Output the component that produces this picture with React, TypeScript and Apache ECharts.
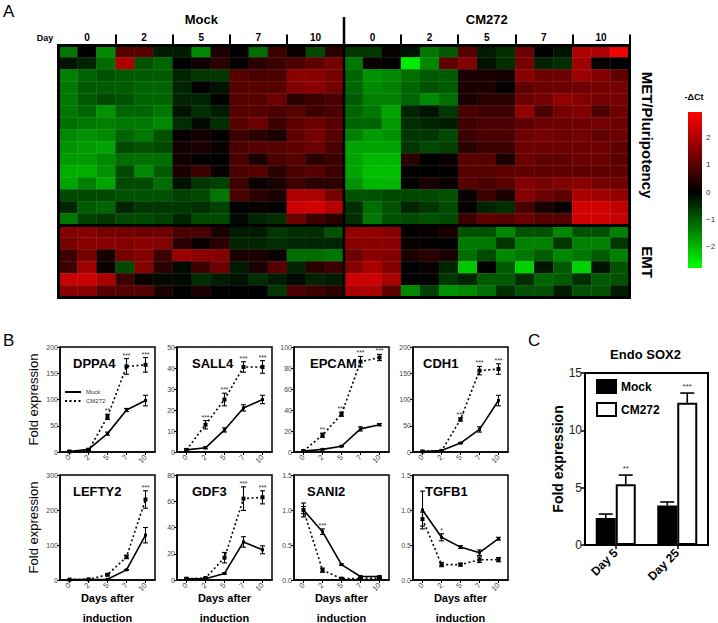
import React, { useEffect, useRef } from "react";
import * as echarts from "echarts";

const FONT = "'Liberation Sans', Arial, Helvetica, sans-serif";

// ---------------- Panel A : heatmap (-ΔCt) ----------------
const heatConditions = ["Mock", "CM272"];
const heatDays = ["0", "2", "5", "7", "10"];
const heatReplicates = ["a", "b", "c"];
const colorbarTicks = [2, 1, 0, -1, -2];

// MET / Pluripotency genes (15 rows) x 15 columns (days 0,2,5,7,10 x 3)
const mockMET = [
  [-1.3, 0, -1.5, 1.0, 1.0, -0.3, -0.3, -1.5, 0.3, 0, -1.2, 0.7, 0.1, -0.8, 0.5],
  [-0.2, -0.4, -1.2, 2.0, -0.9, -1.1, 0, 0.2, 0.5, 0.05, 0.5, 0.7, 0.85, 1.1, 1.35],
  [-1.4, -1.1, -0.9, -1.0, -1.0, -1.0, -0.4, -0.6, -0.6, 1.0, 0.85, 0.85, 1.6, 1.6, 1.35],
  [-1.3, -1.0, -1.0, -1.0, -1.1, -1.1, -0.4, 0, -0.2, 1.0, 1.0, 1.0, 1.5, 1.6, 1.35],
  [-1.3, -1.0, -0.8, -0.9, -1.1, -1.1, -0.4, -0.4, 0.05, 1.0, 1.0, 1.25, 0.5, 0.7, 0.85],
  [-1.3, -1.1, -1.6, -1.1, -1.1, -1.3, -0.2, -0.5, -0.3, 1.0, 1.0, 0.85, 1.0, 0.7, 0.85],
  [-1.2, -1.3, -1.4, -1.3, -1.3, -1.5, -0.5, -0.1, -0.5, 1.0, 1.25, 0.7, 1.1, 1.25, 1.0],
  [-1.5, -1.6, -1.5, -1.1, -1.3, -0.9, 0.05, 0.2, 0.05, 0.7, 0.5, 0.3, 1.1, 1.35, 1.0],
  [-1.6, -1.7, -1.8, -0.8, -0.9, -0.8, 0.2, 0.3, 0.1, 0.85, 1.0, 1.0, 1.1, 1.25, 0.85],
  [-1.7, -1.7, -1.5, -1.2, -1.2, -1.2, 0.2, 0, 0, 0.85, 0.3, 0.85, 1.0, 0.5, 0.7],
  [-1.9, -1.9, -1.6, -0.8, -1.5, -1.0, 0.3, 0.7, 0.1, 0.85, 1.0, 0.5, 0.85, 1.0, 0.7],
  [-1.8, -1.4, -1.8, -0.8, -0.8, -1.2, -0.2, -0.6, -0.7, 0.7, 0.1, 0.3, 0.7, 0.5, 0.5],
  [-0.8, -0.8, -0.8, -0.9, -0.9, -0.9, -0.7, -0.8, -1.3, 0.85, 0.5, 0.3, 2.0, 2.0, 1.35],
  [-0.4, -1.0, -1.1, -0.4, -0.6, -0.6, -0.6, -0.5, -0.7, 0, 0.1, 0, 2.35, 2.45, 2.1],
  [-1.3, -0.7, -0.6, -0.8, -0.8, -0.7, -0.4, -0.8, -0.8, -0.1, -0.4, -0.5, 1.25, 0.7, 0.5],
];
const cm272MET = [
  [-0.6, -0.6, 0.1, -0.2, -1.3, -1.0, 1.0, -0.3, -0.5, 1.25, 0, -0.2, 2.0, 2.0, 2.8],
  [-1.3, 0.1, 0, -2.6, -1.5, 1.1, 1.5, -0.2, -0.5, 1.35, -0.4, -0.5, 1.85, 0.1, 0],
  [-1.1, -1.6, -1.5, -1.2, -1.0, -1.0, 0.3, 0.3, 0.2, 1.6, 1.25, 1.25, 1.8, 1.5, 1.1],
  [-1.1, -1.5, -1.4, -1.1, -0.9, -1.0, 0.3, 0.3, 0, 1.1, 1.25, 1.25, 1.25, 1.35, 1.35],
  [-1.0, -1.4, -1.4, -1.1, -1.5, -1.2, 0.3, 0.5, 0.5, 1.25, 1.35, 1.7, 1.5, 1.35, 1.35],
  [-1.1, -1.3, -1.8, -0.4, -0.2, -0.6, 0.85, 0.7, 0.7, 1.7, 0.85, 1.35, 1.5, 0.85, 1.25],
  [-1.1, -1.1, -1.7, -0.5, -0.4, -0.3, 0.7, 0.85, 0.85, 1.1, 1.25, 1.25, 1.25, 1.35, 1.25],
  [-1.4, -1.7, -1.6, -0.6, -0.6, -0.8, 0.7, 0.85, 0.85, 1.25, 1.35, 1.25, 1.35, 1.1, 1.25],
  [-1.8, -1.8, -1.8, -0.6, -0.8, -0.7, 0.5, 0.7, 0.7, 1.25, 1.25, 1.25, 1.25, 1.25, 1.1],
  [-1.8, -2.0, -2.0, 0.5, 0, 0.1, 1.0, 1.0, 0.3, 1.25, 1.1, 1.1, 1.25, 1.25, 1.0],
  [-1.8, -2.1, -2.1, 0, 0, 0, 1.0, 1.0, 1.1, 1.1, 1.1, 1.1, 1.1, 1.1, 1.1],
  [-1.6, -2.0, -2.0, 0, 0.3, 0.1, 1.0, 0.85, 1.0, 1.5, 1.35, 1.5, 1.6, 1.35, 1.25],
  [-0.9, -0.9, -0.8, -0.8, -0.8, -0.9, 0.1, 0.7, 0.3, 1.5, 1.25, 1.1, 1.95, 1.85, 1.7],
  [-0.5, -1.2, -0.9, -0.4, -0.6, -0.8, 0.05, -0.4, -0.5, 0.85, 0.3, 0.1, 2.45, 2.45, 2.2],
  [-0.5, -1.3, -0.9, -0.8, -0.9, -0.8, 0.7, 1.1, 1.0, 1.25, 1.0, 1.0, 2.4, 2.4, 2.3],
];
// EMT genes (6 rows)
const mockEMT = [
  [1.5, 1.5, 1.35, 1.35, 1.25, 1.25, 0.85, 0.85, 0.3, -0.3, -0.3, -0.6, -0.5, -0.5, -0.9],
  [1.35, 1.6, 1.6, 1.5, 1.6, 1.5, 0.5, 0.1, 0.5, -0.4, -0.4, -0.5, -0.4, -0.4, -0.4],
  [0.7, 1.35, 0.3, 1.35, 1.5, 0.7, 1.8, 1.6, 1.5, 0.3, 0.3, 0.1, -1.2, -1.2, -1.3],
  [0.7, 1.8, 0.1, -0.8, 1.5, 0.5, -0.1, 0.7, 1.25, -0.3, 0.3, 1.0, -0.4, 0.5, 0.7],
  [2.3, 2.35, 1.95, 0.7, 0.1, -0.1, -0.1, -0.5, -0.3, -0.2, -0.5, -0.3, -0.1, -0.4, -0.3],
  [1.6, 1.6, 1.0, 1.0, 1.0, 0.3, 0, 0.3, 0, 0, 0, -0.6, 0.85, 0.7, 0.5],
];
const cm272EMT = [
  [1.7, 1.7, 1.5, 0, 0.1, 0.3, -0.9, -0.9, -1.5, -0.9, -0.9, -1.5, -0.9, -0.9, -1.4],
  [1.6, 1.6, 1.6, 0.1, 0, 0, -1.3, -1.3, -0.6, -1.4, -1.4, -0.6, -1.4, -1.4, -0.6],
  [1.25, 1.6, 1.5, 0.3, 0.5, 0.3, -1.2, -0.8, -1.5, -1.3, -1.0, -1.5, -1.3, -1.0, -1.4],
  [1.5, 1.95, 1.5, 0, 0.1, -0.4, -2.2, 0, -1.0, -2.3, -0.2, -1.0, -2.3, -0.2, -0.9],
  [2.35, 2.35, 1.95, 0, 0, -0.6, -0.4, -1.0, -1.0, -0.5, -1.1, -1.0, -0.5, -1.0, -0.9],
  [1.95, 1.95, 1.1, -1.5, -0.7, -1.6, -1.5, -1.2, -0.5, -0.9, -0.9, -0.3, -0.9, -0.9, -0.3],
];

// ---------------- Panel B : time courses ----------------
const days = ["0", "2", "5", "7", "10"];
const genes = ["DPPA4", "SALL4", "EPCAM", "CDH1", "LEFTY2", "GDF3", "SANI2", "TGFB1"];
const geneMax = [200, 50, 100, 200, 300, 80, 1.5, 1.5];
const geneStep = [50, 10, 20, 50, 100, 20, 0.5, 0.5];
const mockMean = [
  [1, 5, 35, 80, 98],
  [1, 2, 10.5, 21, 25],
  [1, 2.5, 5.5, 22, 26],
  [1, 3, 17, 43, 98],
  [1, 1, 2, 29, 128],
  [1, 1, 5, 29, 23],
  [1.0, 0.69, 0.22, 0.05, 0.05],
  [1.0, 0.61, 0.47, 0.39, 0.59],
];
const mockErr = [
  [1, 2, 3, 3, 10],
  [0.5, 0.5, 1, 1.5, 2],
  [0.5, 0.5, 0.5, 2, 1],
  [0.5, 1, 1, 5, 10],
  [0.5, 0.5, 0.5, 1, 22],
  [0.5, 0.5, 0.5, 4, 3],
  [0.1, 0.04, 0.01, 0.01, 0.01],
  [0.27, 0.05, 0.02, 0.04, 0.02],
];
const cmMean = [
  [1, 3, 67, 163, 166],
  [1, 13, 25, 40.5, 40.5],
  [1, 16, 36, 86, 90],
  [1, 2, 62, 155, 158],
  [1, 2, 15, 66, 230],
  [1, 1.5, 17, 62, 63],
  [1.0, 0.14, 0.02, 0.02, 0.03],
  [0.87, 0.22, 0.22, 0.29, 0.29],
];
const cmErr = [
  [1, 1, 5, 15, 14],
  [0.5, 2, 3, 2.5, 3],
  [0.5, 2, 2, 5, 3],
  [0.5, 0.5, 3, 8, 10],
  [0.5, 0.5, 3, 5, 25],
  [0.5, 0.5, 4, 9, 5],
  [0.05, 0.03, 0.01, 0.01, 0.01],
  [0.1, 0.03, 0.02, 0.04, 0.03],
];
const geneStars = [
  ["", "", "**", "***", "***"],
  ["", "***", "***", "***", "***"],
  ["", "**", "***", "***", "***"],
  ["", "", "***", "***", "***"],
  ["", "", "", "", "***"],
  ["", "", "", "***", "***"],
  ["", "***", "", "", ""],
  ["", "*", "", "", ""],
];
const xTitle = "Days after\ninduction";

// ---------------- Panel C : Endo SOX2 ----------------
const sox2Days = ["Day 5", "Day 25"];
const sox2Mock = [2.35, 3.45];
const sox2MockErr = [0.35, 0.3];
const sox2CM = [5.3, 12.4];
const sox2CMErr = [0.8, 0.85];
const sox2Stars = ["**", "***"];

// ---------------- helpers ----------------
const HM_MIN = -2.8;
const HM_MAX = 2.95;

function colorAt(v: number): string {
  if (v < 0) {
    const g = Math.round(255 * Math.min(1, -v / -HM_MIN));
    return `rgb(0,${g},0)`;
  }
  const r = Math.round(255 * Math.min(1, v / HM_MAX));
  return `rgb(${r},0,0)`;
}

function rampColors(n: number): string[] {
  const out: string[] = [];
  for (let k = 0; k < n; k++) out.push(colorAt(HM_MIN + (k * (HM_MAX - HM_MIN)) / (n - 1)));
  return out;
}

function txt(text: string, x: number, y: number, o: any = {}) {
  const align = o.align || "left";
  const valign = o.valign || "middle";
  const style: any = {
    text,
    fontSize: o.size || 10,
    fontWeight: o.weight || "normal",
    fontFamily: FONT,
    fill: o.color || "#000",
    align,
    verticalAlign: valign,
    textAlign: align,
    textVerticalAlign: valign,
  };
  if (o.lineHeight) style.lineHeight = o.lineHeight;
  return { type: "text", x, y, rotation: o.rotation || 0, z: 100, silent: true, style };
}

function errSeries(gi: number, means: number[], errs: number[], dx: number, capW: number, upOnly: boolean, lw: number) {
  return {
    type: "custom",
    xAxisIndex: gi,
    yAxisIndex: gi,
    silent: true,
    clip: true,
    z: 5,
    data: means.map((m, i) => [i, m, errs[i]]),
    encode: { x: 0, y: 1 },
    renderItem: (params: any, api: any) => {
      const i = api.value(0);
      const m = api.value(1);
      const e = api.value(2);
      const hi = api.coord([i, m + e]);
      const lo = api.coord([i, upOnly ? m : m - e]);
      const x = hi[0] + dx;
      const st = { stroke: "#000", lineWidth: lw };
      const children: any[] = [
        { type: "line", shape: { x1: x, y1: hi[1], x2: x, y2: lo[1] }, style: st },
        { type: "line", shape: { x1: x - capW, y1: hi[1], x2: x + capW, y2: hi[1] }, style: st },
      ];
      if (!upOnly) children.push({ type: "line", shape: { x1: x - capW, y1: lo[1], x2: x + capW, y2: lo[1] }, style: st });
      return { type: "group", children };
    },
  };
}

function starSeries(gi: number, tops: number[], stars: string[], dx: number, size: number, gap: number) {
  return {
    type: "custom",
    xAxisIndex: gi,
    yAxisIndex: gi,
    silent: true,
    z: 6,
    data: tops.map((t, i) => [i, t]),
    encode: { x: 0, y: 1 },
    renderItem: (params: any, api: any) => {
      const s = stars[params.dataIndex];
      if (!s) return { type: "group", children: [] };
      const p = api.coord([api.value(0), api.value(1)]);
      return {
        type: "text",
        x: p[0] + dx,
        y: p[1] - gap,
        style: {
          text: s,
          fontSize: size,
          fontFamily: FONT,
          fill: "#333",
          align: "center",
          verticalAlign: "bottom",
          textAlign: "center",
          textVerticalAlign: "bottom",
        },
      };
    },
  };
}

function buildOption() {
  const grid: any[] = [];
  const xAxis: any[] = [];
  const yAxis: any[] = [];
  const series: any[] = [];
  const graphic: any[] = [];

  // ---------- Panel A ----------
  const HM = { left: 58.5, top: 45.5, width: 571, height: 252 };
  grid.push({ left: HM.left, top: HM.top, width: HM.width, height: HM.height, show: false });
  const colIds: string[] = [];
  heatConditions.forEach((c) => heatDays.forEach((d) => heatReplicates.forEach((r) => colIds.push(`${c}|${d}|${r}`))));
  const rowIds: string[] = [];
  mockMET.forEach((_, i) => rowIds.push(`MET-${i + 1}`));
  mockEMT.forEach((_, i) => rowIds.push(`EMT-${i + 1}`));
  xAxis.push({
    gridIndex: 0,
    type: "category",
    data: colIds,
    position: "top",
    boundaryGap: true,
    axisLine: { show: false },
    axisTick: {
      show: true,
      interval: (i: number) => i % 3 === 0 && i % 15 !== 0,
      length: 11,
      lineStyle: { color: "#000", width: 2 },
    },
    axisLabel: {
      interval: (i: number) => i % 3 === 1,
      formatter: (v: string) => v.split("|")[1],
      fontSize: 10,
      fontWeight: "bold",
      color: "#000",
      margin: 3,
      fontFamily: FONT,
    },
    splitLine: { show: false },
  });
  yAxis.push({ gridIndex: 0, type: "category", data: rowIds, inverse: true, show: false });
  const heatData: any[] = [];
  const allRows = [
    ...mockMET.map((r, i) => r.concat(cm272MET[i])),
    ...mockEMT.map((r, i) => r.concat(cm272EMT[i])),
  ];
  allRows.forEach((row, r) => row.forEach((v, c) => heatData.push([c, r, v])));
  series.push({
    type: "heatmap",
    xAxisIndex: 0,
    yAxisIndex: 0,
    data: heatData,
    silent: true,
    itemStyle: { borderColor: "rgba(255,255,255,0.07)", borderWidth: 0.6 },
    emphasis: { disabled: true },
  });

  const hmRight = HM.left + HM.width;
  const hmBottom = HM.top + HM.height;
  const midX = HM.left + HM.width / 2;
  const emtY = HM.top + (HM.height * mockMET.length) / rowIds.length;
  graphic.push(
    { type: "rect", z: 100, silent: true, shape: { x: HM.left, y: HM.top, width: HM.width, height: HM.height }, style: { fill: "none", stroke: "#000", lineWidth: 3 } },
    { type: "line", z: 100, silent: true, shape: { x1: midX, y1: 17, x2: midX, y2: hmBottom }, style: { stroke: "#000", lineWidth: 2.5 } },
    { type: "line", z: 100, silent: true, shape: { x1: HM.left, y1: emtY, x2: hmRight, y2: emtY }, style: { stroke: "#000", lineWidth: 3 } },
    txt("A", 3, 11, { size: 17 }),
    txt("Mock", HM.left + HM.width / 4, 19, { size: 13, weight: "bold", align: "center" }),
    txt("CM272", HM.left + (3 * HM.width) / 4, 19, { size: 13, weight: "bold", align: "center" }),
    txt("Day", 45, 38, { size: 9, weight: "bold", align: "center" }),
    txt("MET/Pluripotency", 647, 135, { size: 15, weight: "bold", align: "center", rotation: -Math.PI / 2 }),
    txt("EMT", 647, 262, { size: 15, weight: "bold", align: "center", rotation: -Math.PI / 2 }),
    txt("-ΔCt", 694, 97, { size: 9, weight: "bold", align: "center" })
  );
  // colour bar of the -ΔCt scale
  const CB = { left: 688, top: 112, width: 14, height: 156 };
  const nStops = 40;
  const stops = rampColors(nStops)
    .reverse()
    .map((c, k) => ({ offset: k / (nStops - 1), color: c }));
  graphic.push({
    type: "rect",
    z: 90,
    silent: true,
    shape: { x: CB.left, y: CB.top, width: CB.width, height: CB.height },
    style: { fill: new echarts.graphic.LinearGradient(0, 0, 0, 1, stops), stroke: "none" },
  });
  colorbarTicks.forEach((v) => {
    const y = CB.top + ((HM_MAX - v) / (HM_MAX - HM_MIN)) * CB.height;
    graphic.push(txt(v < 0 ? `\u2212${-v}` : `${v}`, 706, y, { size: 8, color: "#333" }));
  });

  // ---------- Panel B ----------
  const BL = [60, 177, 294, 413];
  const BT = [347, 475];
  const BW = 95;
  const BH = 105;
  const titleDx = [13, 15, 16, 10, 13, 15, 13, 12];
  graphic.push(txt("B", 3, 340, { size: 17 }));
  genes.forEach((g, k) => {
    const gi = grid.length;
    const row = Math.floor(k / 4);
    const col = k % 4;
    grid.push({ left: BL[col], top: BT[row], width: BW, height: BH, show: true, borderColor: "#000", borderWidth: 1.5 });
    const small = geneMax[k] < 10;
    xAxis.push({
      gridIndex: gi,
      type: "category",
      data: days,
      boundaryGap: true,
      axisLine: { show: true, lineStyle: { color: "#000", width: 1.5 } },
      axisTick: { show: true, alignWithLabel: true, length: 3, lineStyle: { color: "#000", width: 1 } },
      axisLabel: { rotate: 45, fontSize: 7.5, color: "#444", margin: 4, fontFamily: FONT },
      splitLine: { show: false },
    });
    yAxis.push({
      gridIndex: gi,
      type: "value",
      min: 0,
      max: geneMax[k],
      interval: geneStep[k],
      axisLine: { show: true, lineStyle: { color: "#000", width: 1.5 } },
      axisTick: { show: true, length: 3, lineStyle: { color: "#000", width: 1 } },
      axisLabel: {
        fontSize: 7,
        color: "#444",
        margin: 2,
        fontFamily: FONT,
        formatter: (v: number) => (small ? v.toFixed(1) : `${v}`),
      },
      splitLine: { show: false },
      name: col === 0 ? "Fold expression" : "",
      nameLocation: "middle",
      nameGap: 20,
      nameRotate: 90,
      nameTextStyle: { fontSize: 13, color: "#000", fontFamily: FONT },
    });
    series.push({
      type: "line",
      name: "Mock B",
      xAxisIndex: gi,
      yAxisIndex: gi,
      data: mockMean[k],
      symbol: "rect",
      symbolSize: 3,
      itemStyle: { color: "#000" },
      lineStyle: { color: "#000", width: 1.6 },
      z: 4,
      silent: true,
    });
    series.push({
      type: "line",
      name: "CM272 B",
      xAxisIndex: gi,
      yAxisIndex: gi,
      data: cmMean[k],
      symbol: "rect",
      symbolSize: 4,
      itemStyle: { color: "#000" },
      lineStyle: { color: "#000", width: 1.6, type: [2, 2.5] },
      z: 4,
      silent: true,
    });
    series.push(errSeries(gi, mockMean[k], mockErr[k], 0, 2.5, false, 1.1));
    series.push(errSeries(gi, cmMean[k], cmErr[k], 0, 2.5, false, 1.1));
    const tops = mockMean[k].map((m, i) => Math.max(m + mockErr[k][i], cmMean[k][i] + cmErr[k][i]));
    series.push(starSeries(gi, tops, geneStars[k], 0, 7, 0));
    graphic.push(txt(g, BL[col] + titleDx[k], BT[row] + 16, { size: 13, weight: "bold" }));
    if (row === 1) {
      graphic.push(
        txt(xTitle, BL[col] + BW / 2, BT[row] + BH + 28, {
          size: 11,
          weight: "bold",
          align: "center",
          lineHeight: 20,
        })
      );
    }
  });

  // ---------- Panel C ----------
  const C = { left: 585, top: 373, width: 123, height: 172 };
  const cg = grid.length;
  grid.push({ left: C.left, top: C.top, width: C.width, height: C.height, show: true, borderColor: "#000", borderWidth: 2 });
  xAxis.push({
    gridIndex: cg,
    type: "category",
    data: sox2Days,
    boundaryGap: true,
    axisLine: { show: true, lineStyle: { color: "#000", width: 2 } },
    axisTick: { show: true, alignWithLabel: true, length: 4, lineStyle: { color: "#000", width: 1.5 } },
    axisLabel: { rotate: 45, fontSize: 12, fontWeight: "bold", color: "#000", margin: 6, fontFamily: FONT },
    splitLine: { show: false },
  });
  yAxis.push({
    gridIndex: cg,
    type: "value",
    min: 0,
    max: 15,
    interval: 5,
    axisLine: { show: true, lineStyle: { color: "#000", width: 2 } },
    axisTick: { show: true, length: 4, lineStyle: { color: "#000", width: 1.5 } },
    axisLabel: { fontSize: 12, color: "#222", margin: 3, fontFamily: FONT },
    splitLine: { show: false },
    name: "Fold expression",
    nameLocation: "middle",
    nameGap: 20,
    nameRotate: 90,
    nameTextStyle: { fontSize: 14, fontWeight: "bold", color: "#000", fontFamily: FONT },
  });
  series.push({
    type: "bar",
    name: "Mock",
    xAxisIndex: cg,
    yAxisIndex: cg,
    data: sox2Mock,
    barWidth: 20,
    barGap: "0%",
    itemStyle: { color: "#000", borderColor: "#000", borderWidth: 2 },
    silent: true,
  });
  series.push({
    type: "bar",
    name: "CM272",
    xAxisIndex: cg,
    yAxisIndex: cg,
    data: sox2CM,
    barWidth: 20,
    barGap: "0%",
    itemStyle: { color: "#fff", borderColor: "#000", borderWidth: 2 },
    silent: true,
  });
  series.push(errSeries(cg, sox2Mock, sox2MockErr, -10, 7, true, 1.6));
  series.push(errSeries(cg, sox2CM, sox2CMErr, 10, 7, true, 1.6));
  series.push(starSeries(cg, sox2CM.map((m, i) => m + sox2CMErr[i]), sox2Stars, 10, 8, 3));
  graphic.push(
    txt("C", 528, 340, { size: 17 }),
    txt("Endo SOX2", C.left + C.width / 2 - 1, 354, { size: 13, weight: "bold", align: "center" })
  );

  return {
    animation: false,
    backgroundColor: "#fff",
    textStyle: { fontFamily: FONT },
    tooltip: { show: false },
    grid,
    xAxis,
    yAxis,
    visualMap: [
      {
        type: "continuous",
        seriesIndex: 0,
        min: HM_MIN,
        max: HM_MAX,
        show: false,
        inRange: { color: rampColors(40) },
      },
    ],
    legend: [
      {
        data: ["Mock B", "CM272 B"],
        formatter: (n: string) => n.split(" ")[0],
        left: 64,
        top: 389,
        orient: "vertical",
        itemGap: 3,
        itemWidth: 16,
        itemHeight: 5,
        padding: 0,
        selectedMode: false,
        itemStyle: { opacity: 0 },
        textStyle: { fontSize: 6, color: "#333", fontFamily: FONT },
      },
      {
        data: ["Mock", "CM272"],
        left: 596,
        top: 379,
        orient: "vertical",
        itemGap: 8,
        itemWidth: 19,
        itemHeight: 13,
        icon: "rect",
        padding: 0,
        selectedMode: false,
        textStyle: { fontSize: 12, fontWeight: "bold", color: "#000", fontFamily: FONT },
      },
    ],
    series,
    graphic,
  };
}

export default function App() {
  const ref = useRef<HTMLDivElement>(null);
  useEffect(() => {
    document.body.style.margin = "0";
    if (!ref.current) return;
    const chart = echarts.init(ref.current, null, { renderer: "svg" });
    chart.setOption(buildOption() as any);
    return () => chart.dispose();
  }, []);
  return (
    <div style={{ position: "absolute", left: 0, top: 0, width: 718, height: 623, background: "#fff" }}>
      <div ref={ref} style={{ width: 718, height: 623 }} />
    </div>
  );
}
